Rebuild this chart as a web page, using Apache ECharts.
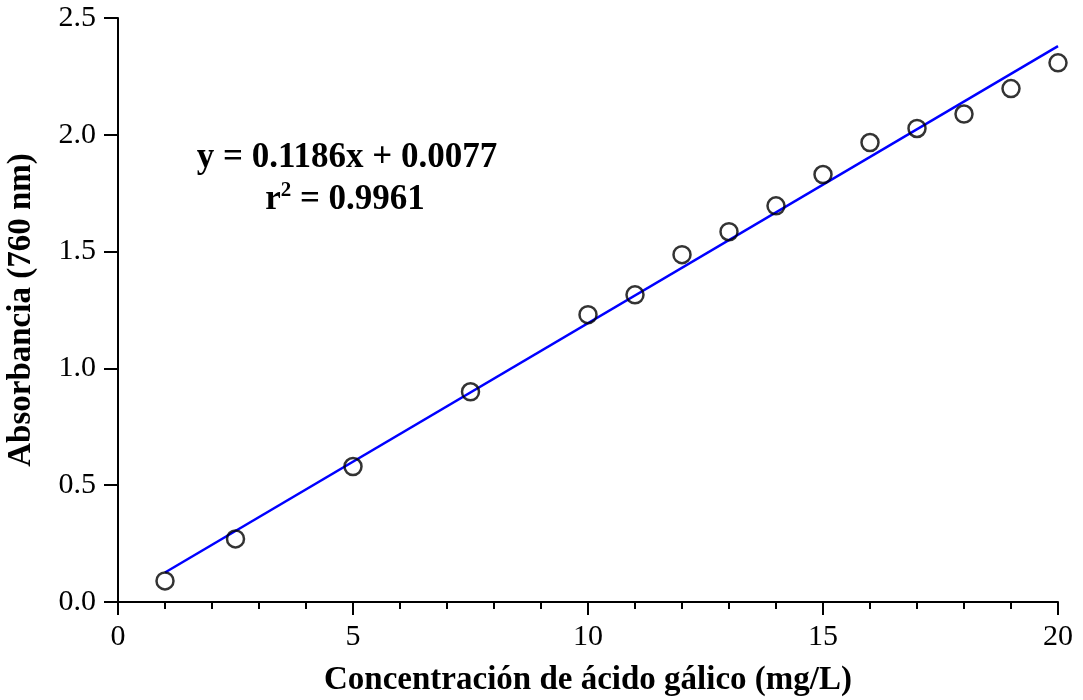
<!DOCTYPE html>
<html>
<head>
<meta charset="utf-8">
<script src="https://cdn.jsdelivr.net/npm/echarts@6/dist/echarts.min.js"></script>
<style>
  html, body { margin: 0; padding: 0; background: #fff; }
  #chart { width: 1083px; height: 700px; }
</style>
</head>
<body>
<div id="chart"></div>
<script>
// puntos medidos
var concentracion = [1, 2.5, 5, 7.5, 10, 11, 12, 13, 14, 15, 16, 17, 18, 19, 20];
var absorbancia = [0.09, 0.27, 0.58, 0.90, 1.23, 1.315, 1.487, 1.585, 1.696, 1.83, 1.967, 2.027, 2.089, 2.198, 2.308];
// recta de ajuste y = 0.1186x + 0.0077 (extremos)
var ajusteX = [1, 20];
var ajusteY = [0.1263, 2.3797];
var ecuacion = "y = 0.1186x + 0.0077";
var r2 = "0.9961";

var font = "'Liberation Serif', 'Times New Roman', serif";

var chart = echarts.init(document.getElementById("chart"));
chart.setOption({
  animation: false,
  grid: { left: 118, right: 25, top: 18, bottom: 98, outerBoundsMode: "none", containLabel: false },
  xAxis: {
    type: "value",
    min: 0,
    max: 20,
    interval: 5,
    name: "Concentración de ácido gálico (mg/L)",
    nameLocation: "middle",
    nameGap: 62,
    nameTextStyle: { fontFamily: font, fontWeight: "bold", fontSize: 33, color: "#000" },
    axisLine: { lineStyle: { color: "#000", width: 2 } },
    axisTick: { length: 13, lineStyle: { color: "#000", width: 2 } },
    minorTick: { show: true, splitNumber: 5, length: 7, lineStyle: { color: "#000", width: 2 } },
    splitLine: { show: false },
    axisLabel: { fontFamily: font, fontSize: 30, color: "#000", margin: 20 }
  },
  yAxis: {
    type: "value",
    min: 0,
    max: 2.5,
    interval: 0.5,
    name: "Absorbancia (760 nm)",
    nameLocation: "middle",
    nameGap: 80,
    nameTextStyle: { fontFamily: font, fontWeight: "bold", fontSize: 33, color: "#000" },
    axisLine: { lineStyle: { color: "#000", width: 2 } },
    axisTick: { length: 14, lineStyle: { color: "#000", width: 2 } },
    splitLine: { show: false },
    axisLabel: {
      fontFamily: font, fontSize: 30, color: "#000", margin: 22,
      formatter: function (v) { return v.toFixed(1); }
    }
  },
  graphic: [
    {
      type: "text",
      x: 347,
      y: 158,
      style: { text: ecuacion, font: "bold 35px " + font, fill: "#000", align: "center", verticalAlign: "middle" }
    },
    {
      type: "text",
      x: 345,
      y: 199,
      style: {
        text: "{b|r}{s|2}{b| = " + r2 + "}",
        align: "center",
        verticalAlign: "middle",
        rich: {
          b: { font: "bold 35px " + font, fill: "#000", verticalAlign: "bottom" },
          s: { font: "bold 21px " + font, fill: "#000", verticalAlign: "top", padding: [0, 0, 16, 0] }
        }
      }
    }
  ],
  series: [
    {
      type: "line",
      data: ajusteX.map(function (x, i) { return [x, ajusteY[i]]; }),
      showSymbol: false,
      lineStyle: { color: "#0000ff", width: 2.5 },
      z: 2
    },
    {
      type: "scatter",
      data: concentracion.map(function (x, i) { return [x, absorbancia[i]]; }),
      symbol: "circle",
      symbolSize: 17,
      itemStyle: { color: "rgba(255,255,255,0)", borderColor: "#000", borderWidth: 2.5 },
      z: 3
    }
  ]
});
</script>
</body>
</html>
